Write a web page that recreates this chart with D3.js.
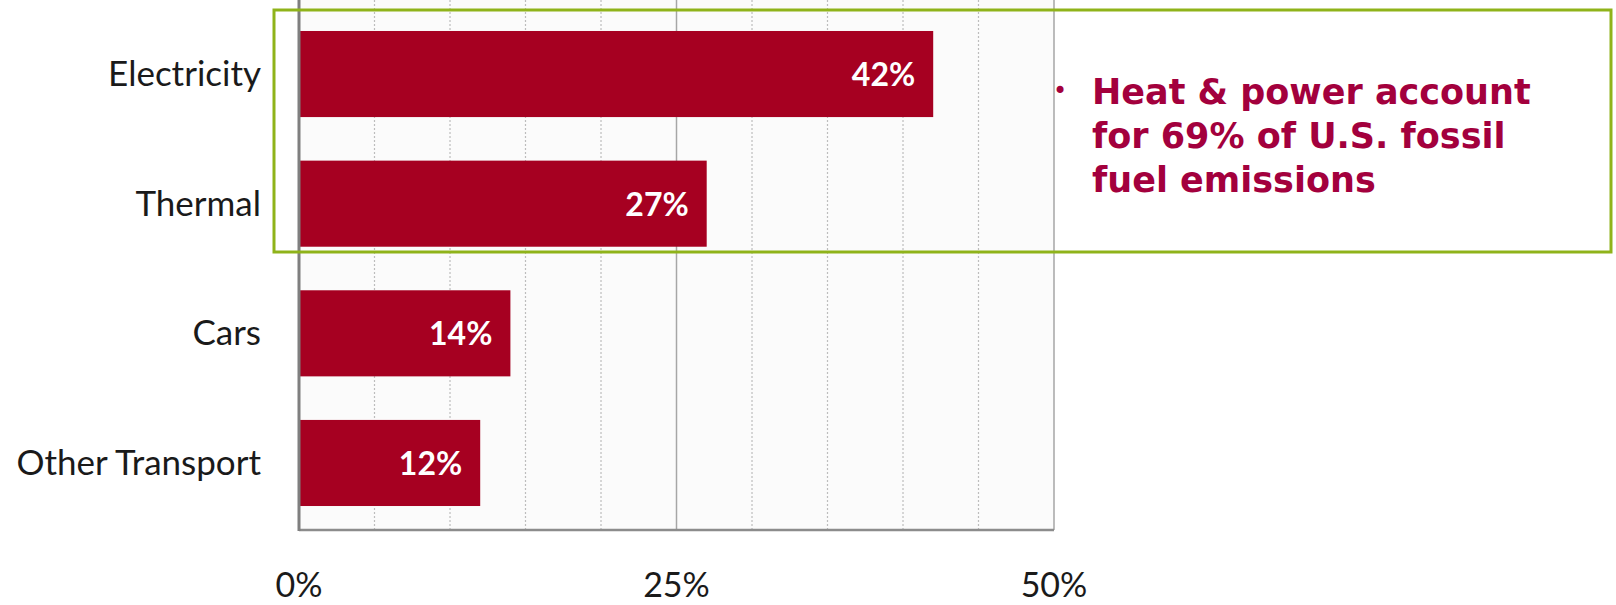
<!DOCTYPE html>
<html>
<head>
<meta charset="utf-8">
<script src="https://cdn.jsdelivr.net/npm/d3@7"></script>
<style>
  body { margin: 0; background: #fff; }
  svg { display: block; }
</style>
</head>
<body>
<svg id="chart" width="1616" height="605"></svg>
<script>
// chart data
const categories = ["Electricity", "Thermal", "Cars", "Other Transport"];
const shares = [42, 27, 14, 12];
const barLabels = ["42%", "27%", "14%", "12%"];
const tickValues = [0, 25, 50];
const tickLabels = ["0%", "25%", "50%"];
const gridValues = [5, 10, 15, 20, 30, 35, 40, 45];
const noteLines = ["Heat & power account", "for 69% of U.S. fossil", "fuel emissions"];

const svg = d3.select("#chart");
const margin = {top: 7, left: 299, bottom: 75};
const plotRight = 1054;
const plotBottom = 605 - margin.bottom;

const x = d3.scaleLinear().domain([0, 50]).range([margin.left, plotRight]);
const y = d3.scaleBand().domain(categories)
    .range([margin.top, plotBottom])
    .paddingInner(0.336)
    .paddingOuter(0.185);

// plot background
svg.append("rect")
    .attr("x", x(0)).attr("y", margin.top - 7)
    .attr("width", x(50) - x(0)).attr("height", plotBottom - margin.top + 7)
    .attr("fill", "#fbfbfb");

// minor grid lines
svg.append("g").selectAll("line").data(gridValues).join("line")
    .attr("x1", d => x(d)).attr("x2", d => x(d))
    .attr("y1", 0).attr("y2", plotBottom)
    .attr("stroke", "#bdbdbd")
    .attr("stroke-width", 1.2)
    .attr("stroke-dasharray", "2,2");

// major grid line + right border
svg.append("g").selectAll("line").data([25, 50]).join("line")
    .attr("x1", d => x(d)).attr("x2", d => x(d))
    .attr("y1", 0).attr("y2", plotBottom)
    .attr("stroke", "#a6a6a6")
    .attr("stroke-width", 1.5);

// bars
svg.append("g").selectAll("rect").data(shares).join("rect")
    .attr("x", x(0))
    .attr("y", (d, i) => y(categories[i]))
    .attr("width", d => x(d) - x(0))
    .attr("height", y.bandwidth())
    .attr("fill", "#a60021");

// bar value labels
svg.append("g").selectAll("text").data(shares).join("text")
    .attr("x", d => x(d) - 18)
    .attr("y", (d, i) => y(categories[i]) + y.bandwidth() / 2 + 12)
    .attr("text-anchor", "end")
    .attr("fill", "#fff")
    .style("font-family", "Lato, sans-serif")
    .style("font-weight", "bold")
    .style("font-size", "32px")
    .text((d, i) => barLabels[i]);

// axes lines
svg.append("line")
    .attr("x1", x(0)).attr("x2", x(50))
    .attr("y1", plotBottom).attr("y2", plotBottom)
    .attr("stroke", "#8c8c8c").attr("stroke-width", 2.5);
svg.append("line")
    .attr("x1", x(0)).attr("x2", x(0))
    .attr("y1", 0).attr("y2", plotBottom + 1)
    .attr("stroke", "#7f7f7f").attr("stroke-width", 3);

// category labels
svg.append("g").selectAll("text").data(categories).join("text")
    .attr("x", 261)
    .attr("y", d => y(d) + y.bandwidth() / 2 + 12)
    .attr("text-anchor", "end")
    .attr("fill", "#1a1a1a")
    .style("font-family", "Lato, sans-serif")
    .style("font-size", "35px")
    .text(d => d);

// x tick labels
svg.append("g").selectAll("text").data(tickValues).join("text")
    .attr("x", d => x(d))
    .attr("y", 597)
    .attr("text-anchor", "middle")
    .attr("fill", "#1a1a1a")
    .style("font-family", "Lato, sans-serif")
    .style("font-size", "34px")
    .text((d, i) => tickLabels[i]);

// highlight box
svg.append("rect")
    .attr("x", 274).attr("y", 10)
    .attr("width", 1611 - 274).attr("height", 252 - 10)
    .attr("fill", "none")
    .attr("stroke", "#8fb31a")
    .attr("stroke-width", 3);

// note
svg.append("text")
    .attr("x", 1053).attr("y", 99)
    .attr("fill", "#a3003d")
    .style("font-family", "'DejaVu Sans', sans-serif")
    .style("font-size", "24px")
    .text("•");

const note = svg.append("text")
    .attr("fill", "#a3003d")
    .style("font-family", "'DejaVu Sans', sans-serif")
    .style("font-weight", "bold")
    .style("font-size", "35px");
note.selectAll("tspan").data(noteLines).join("tspan")
    .attr("x", 1092)
    .attr("y", (d, i) => 104 + i * 44)
    .text(d => d);
</script>
</body>
</html>
